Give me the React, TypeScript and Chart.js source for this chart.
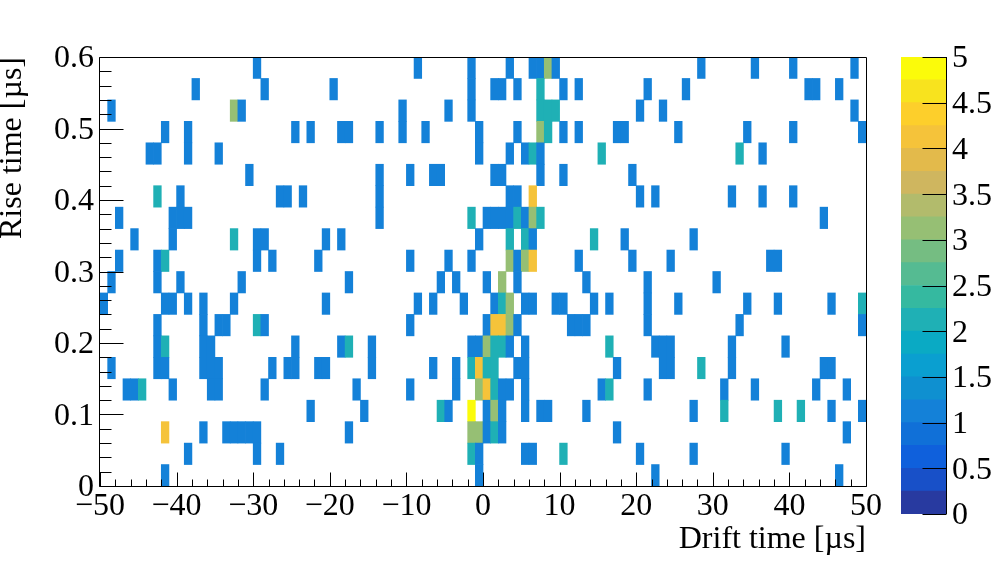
import React, { useEffect, useRef } from "react";
import { Chart, registerables } from "chart.js";

Chart.register(...registerables);

const FONT = "'Liberation Serif'";
const BIN_COUNT = 100;
const ROW_HEIGHT = 0.03;
const binLabels = Array.from({ length: BIN_COUNT }, (_, i) => String(i));

// [drift-time bin, entries]
const row00 = [[8,1],[49,1],[72,1],[96,1]];
const row01 = [[11,1],[20,1],[23,1],[48,2],[49,1],[55,1],[56,1],[60,2],[70,1],[77,1],[89,1]];
const row02 = [[8,4],[13,1],[16,1],[17,1],[18,1],[19,1],[20,1],[32,1],[48,3],[49,3],[50,1],[51,2],[52,1],[67,1],[97,1]];
const row03 = [[27,1],[34,1],[44,2],[45,1],[48,5],[50,1],[51,3],[52,1],[55,1],[57,1],[58,1],[63,1],[77,1],[81,2],[88,2],[91,2],[95,1],[99,1]];
const row04 = [[3,1],[4,1],[5,2],[9,1],[14,1],[15,1],[21,1],[33,1],[40,1],[46,1],[49,3],[50,4],[51,2],[52,1],[53,1],[55,1],[65,1],[66,2],[71,1],[81,1],[85,1],[93,1],[97,1]];
const row05 = [[1,1],[7,1],[8,1],[13,1],[14,1],[15,1],[22,1],[24,1],[25,1],[28,1],[29,1],[35,1],[43,1],[46,1],[48,2],[49,4],[50,2],[51,2],[54,1],[55,1],[67,1],[73,1],[74,1],[78,2],[82,1],[94,1],[95,1]];
const row06 = [[7,1],[8,2],[13,1],[14,1],[25,1],[31,1],[32,2],[35,1],[48,1],[49,1],[50,3],[51,2],[52,2],[53,1],[55,1],[66,2],[72,1],[73,1],[74,1],[82,1],[89,1]];
const row07 = [[7,1],[13,1],[15,1],[16,1],[20,2],[21,1],[40,1],[50,1],[51,4],[52,4],[53,3],[54,1],[61,1],[62,1],[63,1],[71,1],[83,1],[99,1]];
const row08 = [[0,1],[8,1],[9,1],[11,1],[13,1],[17,1],[29,1],[41,1],[43,1],[47,1],[51,1],[52,2],[53,3],[55,1],[56,1],[59,1],[60,1],[64,1],[66,1],[71,1],[75,1],[84,1],[88,1],[95,1],[99,2]];
const row09 = [[1,1],[7,1],[10,1],[18,1],[32,1],[44,1],[46,1],[50,1],[52,3],[54,1],[63,1],[71,1],[80,1]];
const row10 = [[2,1],[7,1],[8,2],[20,1],[22,1],[28,1],[40,1],[45,1],[48,1],[53,3],[54,1],[55,3],[56,4],[62,1],[69,1],[74,1],[87,1],[88,1]];
const row11 = [[4,1],[9,1],[17,2],[20,1],[21,1],[29,1],[31,1],[49,1],[53,2],[55,2],[56,1],[64,2],[68,1],[77,1]];
const row12 = [[2,1],[9,1],[10,1],[11,1],[36,1],[48,2],[50,1],[51,1],[52,1],[53,1],[54,2],[55,1],[56,3],[57,2],[94,1]];
const row13 = [[7,2],[10,1],[23,1],[24,1],[26,1],[36,1],[53,1],[54,1],[56,4],[70,1],[72,1],[82,1],[86,1],[90,1]];
const row14 = [[19,1],[36,1],[40,1],[43,1],[44,1],[51,1],[52,1],[57,1],[60,1],[69,1]];
const row15 = [[6,1],[7,1],[11,1],[15,1],[49,1],[53,1],[55,1],[56,2],[57,1],[65,2],[83,2],[86,1]];
const row16 = [[8,1],[11,1],[25,1],[27,1],[31,1],[32,1],[36,1],[39,1],[42,1],[49,1],[54,1],[57,3],[58,2],[60,1],[62,1],[67,1],[68,1],[75,1],[84,1],[90,1],[99,1]];
const row17 = [[1,1],[17,3],[18,1],[39,1],[45,1],[48,1],[57,2],[58,2],[59,2],[70,1],[73,1],[98,1]];
const row18 = [[12,1],[21,1],[30,1],[48,1],[51,1],[52,1],[54,1],[57,2],[60,1],[62,1],[71,1],[76,1],[92,1],[93,1],[96,1]];
const row19 = [[20,1],[41,1],[48,1],[53,1],[56,1],[57,1],[58,3],[59,1],[78,1],[85,1],[90,1],[98,1]];
const rows = [row00,row01,row02,row03,row04,row05,row06,row07,row08,row09,row10,row11,row12,row13,row14,row15,row16,row17,row18,row19];

// colour of each 0.25-wide level, bottom to top
const paletteColors = [
  "#283aa0","#1850c8","#0f60dc","#1070d8","#1481d8","#0f90d0","#0a9fd0","#0aaac4","#1fb0b5","#35b9a0",
  "#55bb92","#75bd82","#96bf74","#b2bb6c","#cfb65f","#e3ba4b","#f5c33a","#fdcf2b","#f8e31e","#fbfb0a",
];
const LEVEL_WIDTH = 0.25;

const levelColor = (count: number) =>
  paletteColors[Math.min(paletteColors.length - 1, Math.floor(count / LEVEL_WIDTH))];

const sciTick = (v: number) => (v < 0 ? "\u2212" + Math.abs(v) : String(v));

const frameAndTicks = {
  id: "frameAndTicks",
  afterDatasetsDraw(chart: any) {
    const { ctx, chartArea: a, scales } = chart;
    ctx.save();
    ctx.strokeStyle = "#000";
    ctx.lineWidth = 1;
    ctx.beginPath();
    const l = Math.round(a.left) - 0.5, r = Math.round(a.right) + 0.5;
    const t = Math.round(a.top) + 0.5, b = Math.round(a.bottom) + 0.5;
    for (let i = 0; i <= 50; i++) {
      const px = Math.round(scales.x.getPixelForValue(-50 + i * 2)) + 0.5;
      const len = i % 5 === 0 ? 14 : 7;
      ctx.moveTo(px, b);
      ctx.lineTo(px, b - len);
    }
    for (let i = 0; i <= 30; i++) {
      const py = Math.round(scales.y.getPixelForValue(i * 0.02)) + 0.5;
      const len = i % 5 === 0 ? 24 : 12;
      ctx.moveTo(l, py);
      ctx.lineTo(l + len, py);
    }
    ctx.rect(l, t, r - l, b - t);
    ctx.stroke();
    ctx.restore();
  },
};

const paletteAxis = {
  id: "paletteAxis",
  afterDatasetsDraw(chart: any) {
    const { ctx, chartArea: a, scales } = chart;
    ctx.save();
    ctx.strokeStyle = "#000";
    ctx.lineWidth = 1;
    ctx.beginPath();
    const r = Math.round(a.right) + 0.5;
    ctx.moveTo(r, a.top);
    ctx.lineTo(r, a.bottom);
    for (let i = 0; i <= 10; i++) {
      const py = Math.round(scales.y.getPixelForValue(i * 0.5)) + 0.5;
      ctx.moveTo(r, py);
      ctx.lineTo(r - 24, py);
    }
    ctx.stroke();
    ctx.restore();
  },
};

export default function App() {
  const mainRef = useRef<HTMLCanvasElement>(null);
  const barRef = useRef<HTMLCanvasElement>(null);

  useEffect(() => {
    const datasets = rows.map((cells, r) => {
      const data: any[] = new Array(BIN_COUNT).fill(null);
      const colors: string[] = new Array(BIN_COUNT).fill("#fff");
      cells.forEach(([c, n]) => {
        data[c] = [r * ROW_HEIGHT, (r + 1) * ROW_HEIGHT];
        colors[c] = levelColor(n);
      });
      return {
        data,
        backgroundColor: colors,
        borderWidth: 0,
        xAxisID: "bins",
        yAxisID: "y",
        grouped: false,
        barPercentage: 1,
        categoryPercentage: 1,
      };
    });

    const main = new Chart(mainRef.current!, {
      type: "bar",
      data: { labels: binLabels, datasets: datasets as any },
      plugins: [frameAndTicks],
      options: {
        animation: false,
        responsive: false,
        events: [],
        layout: { padding: { top: 57, right: 130, left: 0, bottom: 0 } },
        plugins: { legend: { display: false }, tooltip: { enabled: false } },
        scales: {
          bins: { type: "category", display: false, offset: true, grid: { display: false } },
          x: {
            type: "linear",
            position: "bottom",
            min: -50,
            max: 50,
            offset: false,
            grid: { display: false, offset: false },
            border: { display: false },
            afterFit: (s: any) => { s.height = 86; },
            ticks: {
              stepSize: 10,
              autoSkip: false,
              maxRotation: 0,
              padding: -7,
              color: "#000",
              font: { family: FONT, size: 32 },
              callback: (v: any) => sciTick(Number(v)),
            },
            title: {
              display: true,
              text: "Drift time [\u00b5s]",
              align: "end",
              color: "#000",
              font: { family: FONT, size: 32, lineHeight: 1.2 },
              padding: { top: 0, bottom: 13 },
            },
          },
          y: {
            type: "linear",
            position: "left",
            min: 0,
            max: 0.6,
            grid: { display: false },
            border: { display: false },
            afterFit: (s: any) => { s.width = 100; },
            ticks: {
              stepSize: 0.1,
              autoSkip: false,
              padding: -2,
              labelOffset: 2,
              color: "#000",
              font: { family: FONT, size: 32 },
              callback: (v: any) => (Number(v) === 0 ? "0" : Number(v).toFixed(1)),
            },
            title: {
              display: true,
              text: "Rise time [\u00b5s]",
              align: "end",
              color: "#000",
              font: { family: FONT, size: 32, lineHeight: 0.8 },
              padding: 0,
            },
          },
        },
      },
    } as any);

    const paletteSets = paletteColors.map((color, i) => ({
      data: [[i * LEVEL_WIDTH, (i + 1) * LEVEL_WIDTH]],
      backgroundColor: color,
      borderWidth: 0,
      xAxisID: "x",
      yAxisID: "y",
      grouped: false,
      barPercentage: 1,
      categoryPercentage: 1,
    }));

    const bar = new Chart(barRef.current!, {
      type: "bar",
      data: { labels: ["z"], datasets: paletteSets as any },
      plugins: [paletteAxis],
      options: {
        animation: false,
        responsive: false,
        events: [],
        layout: { padding: { top: 57, bottom: 58, left: 11, right: 0 } },
        plugins: { legend: { display: false }, tooltip: { enabled: false } },
        scales: {
          x: { type: "category", display: false, offset: true, grid: { display: false } },
          y: {
            type: "linear",
            position: "right",
            min: 0,
            max: 5,
            grid: { display: false },
            border: { display: false },
            afterFit: (s: any) => { s.width = 50; },
            ticks: {
              stepSize: 0.5,
              autoSkip: false,
              padding: -2,
              labelOffset: 2,
              color: "#000",
              font: { family: FONT, size: 32 },
              callback: (v: any) => String(Number(v)),
            },
          },
        },
      },
    } as any);

    return () => {
      main.destroy();
      bar.destroy();
    };
  }, []);

  return (
    <div style={{ position: "absolute", left: 0, top: 0, width: 996, height: 572, overflow: "hidden", background: "#fff" }}>
      <canvas ref={mainRef} width={996} height={572} style={{ position: "absolute", left: 0, top: 0 }} />
      <canvas ref={barRef} width={106} height={572} style={{ position: "absolute", left: 890, top: 0 }} />
    </div>
  );
}
